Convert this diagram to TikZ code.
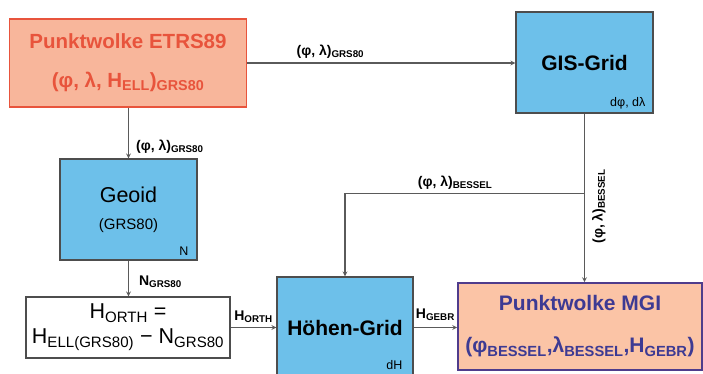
\documentclass[tikz,border=0pt]{standalone}
\usepackage{fontspec}
\setmainfont{Liberation Sans}
\usepackage{amsmath}
\definecolor{EtrsRed}{HTML}{E8543C}
\definecolor{EtrsFill}{HTML}{F8B69B}
\definecolor{MgiFill}{HTML}{FBC4A6}
\definecolor{MgiText}{HTML}{3D3A93}
\definecolor{MgiEdge}{HTML}{4F3C8C}
\definecolor{GridBlue}{HTML}{6DC0EA}
\definecolor{Edge}{HTML}{4D4D4D}
\definecolor{Wire}{HTML}{5A5A5A}
\newcommand{\subt}[1]{$_{\text{#1}}$}

\begin{document}
\begin{tikzpicture}[x=1pt,y=-1pt,>=stealth,
    lbl/.style={font=\fontsize{14}{16}\selectfont\bfseries,inner sep=1pt},
    corner/.style={font=\fontsize{12.5}{14}\selectfont,inner sep=0pt},
    gridbox/.style={draw=Edge,line width=1.2pt,fill=GridBlue,minimum width=137pt,minimum height=101pt,align=center},
    wire/.style={draw=Wire,line width=1.2pt,->}]
  \useasboundingbox (0,0) rectangle (703,373);
  \node[draw=EtrsRed,line width=1.6pt,fill=EtrsFill,minimum width=237pt,minimum height=88pt,text=EtrsRed,align=center,font=\fontsize{20.5}{39}\selectfont\bfseries] (etrs) at (128,63) {Punktwolke ETRS89\\(φ, λ, H\subt{ELL})\subt{GRS80}};
  \node[gridbox,font=\fontsize{21}{25}\selectfont\bfseries] (gis) at (584.5,62.5) {GIS-Grid};
  \node[gridbox,font=\fontsize{21.5}{25}\selectfont] (geoid) at (128.5,209.5) {Geoid\\[2pt]{\fontsize{15}{18}\selectfont (GRS80)}};
  \node[draw=Edge,line width=1.2pt,fill=white,minimum width=204pt,minimum height=61pt,align=center,font=\fontsize{21.5}{25}\selectfont] (horth) at (128,327.5) {H\subt{ORTH} =\\H\subt{ELL(GRS80)} − N\subt{GRS80}};
  \node[gridbox,minimum width=136pt,minimum height=101pt,font=\fontsize{21}{25}\selectfont\bfseries] (hoehen) at (345,327.5) {Höhen-Grid};
  \node[draw=MgiEdge,line width=1.6pt,fill=MgiFill,minimum width=244pt,minimum height=87pt,text=MgiText,align=center,font=\fontsize{21}{42}\selectfont\bfseries] (mgi) at (580,326.5) {Punktwolke MGI\\(φ\subt{BESSEL},λ\subt{BESSEL},H\subt{GEBR})};
  % corner labels
  \node[corner,anchor=south east] (gisd) at ([shift={(-8pt,4pt)}]gis.south east) {dφ, dλ};
  \node[corner,anchor=south east] (geoidn) at ([shift={(-9pt,5pt)}]geoid.south east) {N};
  \node[corner,anchor=south east] (hoehend) at ([shift={(-11pt,9pt)}]hoehen.south east) {dH};
  % connectors
  \draw[wire] (etrs.east) -- (etrs.east -| gis.west) node[lbl,pos=.31,above=3pt] (lgrsa) {(φ, λ)\subt{GRS80}};
  \draw[wire] (geoid.north |- etrs.south) -- (geoid.north) node[lbl,pos=.77,right=6pt] (lgrsb) {(φ, λ)\subt{GRS80}};
  \draw[wire] (geoid.south) -- (geoid.south |- horth.north) node[lbl,pos=.6,right=9pt] (lngrs) {N\subt{GRS80}};
  \draw[wire] (horth.east) -- (horth.east -| hoehen.west) node[lbl,midway,above=3pt] (lorth) {H\subt{ORTH}};
  \draw[wire] (horth.east -| hoehen.east) -- (horth.east -| mgi.west) node[lbl,midway,above=5pt] (lgebr) {H\subt{GEBR}};
  \path (gis.south) ++(0,80) coordinate (split);
  \draw[wire] (gis.south) -- (gis.south |- mgi.north) node[lbl,pos=.55,rotate=90,anchor=north,inner ysep=7pt] (lbesa) {(φ, λ)\subt{BESSEL}};
  \draw[wire] (split) -| (hoehen.north) node[lbl,pos=.27,above=3pt] (lbesb) {(φ, λ)\subt{BESSEL}};
\end{tikzpicture}
\end{document}
